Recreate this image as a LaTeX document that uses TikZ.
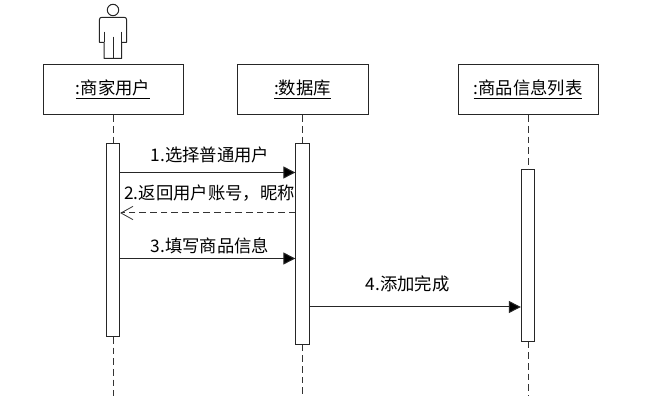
\documentclass[tikz,border=0pt]{standalone}
\usepackage{fontspec}
\setmainfont{Noto Sans CJK SC}
\usetikzlibrary{arrows.meta}
\tikzset{
  ink/.style={draw=black!85,line width=0.75pt},
  objbox/.style={ink,fill=white,minimum width=105pt,minimum height=38pt,inner sep=0pt,font=\fontsize{13pt}{15pt}\selectfont},
  actbar/.style={ink,fill=white,minimum width=10pt,inner sep=0pt},
  lifeline/.style={draw=black!80,line width=0.75pt,dash pattern=on 5pt off 3pt},
  callmsg/.style={draw=black!85,line width=0.75pt,-{Triangle[length=9pt,width=9pt,fill=black]},shorten >=0pt},
  backmsg/.style={draw=black!80,line width=0.75pt,dash pattern=on 5pt off 3pt,-{Straight Barb[length=9pt,width=10pt,line width=0.6pt,sep=0pt]}},
  msgtext/.style={inner sep=0pt,font=\fontsize{13pt}{15pt}\selectfont},
  actorline/.style={draw=black!85,line width=0.75pt,line join=round}
}
\begin{document}
\begin{tikzpicture}[x=0.75pt,y=-0.75pt]
\useasboundingbox (0,0) rectangle (646,402);
\fill[white] (0,0) rectangle (646,402);

% lifeline ends
\coordinate (e1) at (113,396);
\coordinate (e2) at (302.5,396);
\coordinate (e3) at (528,396);

% object boxes
\node[objbox] (o1) at (113,89.5) {\underline{:商家用户}};
\node[objbox,minimum width=98.25pt] (o2) at (302.5,89.5) {\underline{:数据库}};
\node[objbox] (o3) at (528,89.5) {\underline{:商品信息列表}};

% activation bars
\node[actbar,minimum height=144.75pt] (a1) at (113,240) {};
\node[actbar,minimum height=150.4pt] (a2) at (302.5,244) {};
\node[actbar,minimum height=129pt] (a3) at (528,255.25) {};

% lifelines
\draw[lifeline] (o1) -- (a1);
\draw[lifeline] (a1) -- (e1);
\draw[lifeline] (o2) -- (a2);
\draw[lifeline] (a2) -- (e2);
\draw[lifeline] (o3) -- (a3);
\draw[lifeline] (a3) -- (e3);

% message levels
\coordinate (m1) at (0,172.5);
\coordinate (m2) at (0,213);
\coordinate (m3) at (0,258.5);
\coordinate (m4) at (0,307);

\draw[callmsg] (a1.east |- m1) -- (a2.west |- m1);
\draw[backmsg] (a2.west |- m2) -- (a1.east |- m2);
\draw[callmsg] (a1.east |- m3) -- (a2.west |- m3);
\draw[callmsg] (a2.east |- m4) -- (a3.west |- m4);

% labels
\node[msgtext] (l1) at (210,155) {1.选择普通用户};
\node[msgtext] (l2) at (209.5,193) {2.返回用户账号，昵称};
\node[msgtext] (l3) at (210,246) {3.填写商品信息};
\node[msgtext] (l4) at (407.5,284) {4.添加完成};

% actor
\draw[actorline] (113,10) circle (5.7);
\draw[actorline] (104,58.5) -- (104,42.3) -- (99.3,42.3) -- (99.3,20) .. controls (99.3,18) and (100.5,17.3) .. (102,17.3)
  -- (124,17.3) .. controls (125.5,17.3) and (126.7,18) .. (126.7,20) -- (126.7,42.3) -- (121.7,42.3) -- (121.7,58.5) -- cycle;
\draw[actorline] (104,31.7) -- (104,42.3) (121.7,31.7) -- (121.7,42.3) (113,36.7) -- (113,58.5);
\end{tikzpicture}
\end{document}
